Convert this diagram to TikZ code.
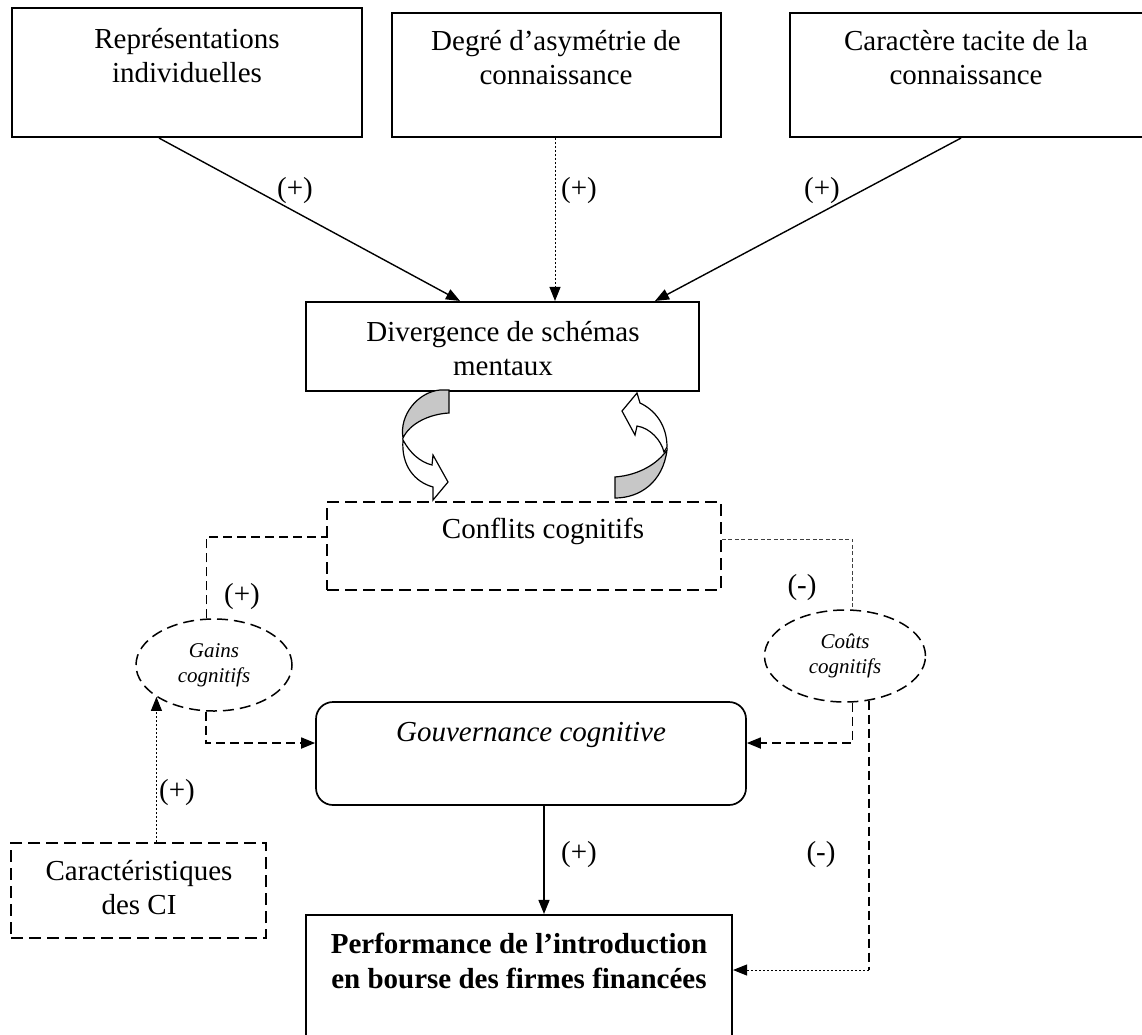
\documentclass[tikz,border=0pt]{standalone}
\usepackage{fontspec}
\setmainfont{Liberation Serif}
\usetikzlibrary{arrows.meta,shapes.geometric}
\begin{document}
\begin{tikzpicture}[x=1pt,y=-1pt,
  solidbox/.style={draw, line width=2.1pt, rectangle, inner sep=0pt},
  dashbox/.style={draw, line width=1.7pt, dash pattern=on 12pt off 6pt, rectangle, inner sep=0pt},
  dashell/.style={draw, line width=1.5pt, dash pattern=on 11pt off 6pt, ellipse, inner sep=0pt},
  txt/.style={align=center, font=\fontsize{29pt}{34pt}\selectfont, inner sep=0pt},
  btxt/.style={align=center, font=\fontsize{29pt}{35pt}\selectfont\bfseries, inner sep=0pt},
  itxt/.style={align=center, font=\fontsize{21pt}{25pt}\selectfont\itshape, inner sep=0pt},
  lbl/.style={font=\fontsize{29pt}{34pt}\selectfont, inner sep=0pt},
  tip/.style={-{Triangle[length=14pt,width=11pt]}},
  solidarr/.style={line width=1.4pt, tip},
  dotarr/.style={line width=1pt, dash pattern=on 2pt off 2pt},
  dasharr/.style={line width=1.7pt, dash pattern=on 9pt off 5pt},
  thinarr/.style={line width=0.9pt, draw=black!75, dash pattern=on 4pt off 2.5pt},
  ribbon/.style={line width=1.2pt, draw=black}
]
\useasboundingbox (0,0) rectangle (1142,1034);

% top boxes
\node[solidbox, minimum width=350pt, minimum height=129pt] (b1) at (187,72.5) {};
\node[txt] (t1) at (187,56) {Représentations\\individuelles};
\node[solidbox, minimum width=329pt, minimum height=124pt] (b2) at (556.5,75) {};
\node[txt] (t2) at (556,58) {Degré d’asymétrie de\\connaissance};
\node[solidbox, minimum width=360pt, minimum height=124pt] (b3) at (970,75) {};
\node[txt] (t3) at (966,58) {Caractère tacite de la\\connaissance};

% divergence
\node[solidbox, minimum width=393pt, minimum height=89pt] (div) at (502.5,346.5) {};
\node[txt] (tdiv) at (503,349) {Divergence de schémas\\mentaux};

% conflits
\node[dashbox, minimum width=394pt, minimum height=88pt] (conf) at (524,546) {};
\node[txt] (tconf) at (543,531) {Conflits cognitifs};

% ellipses
\node[dashell, minimum width=156pt, minimum height=92pt] (gains) at (214,665) {};
\node[itxt] (tgains) at (214,665) {Gains\\cognitifs};
\node[dashell, minimum width=161pt, minimum height=92pt] (couts) at (845,656) {};
\node[itxt] (tcouts) at (845,656) {Coûts\\cognitifs};

% gouvernance
\node[draw, line width=1.7pt, rounded corners=17pt, inner sep=0pt, minimum width=430pt, minimum height=103pt] (gouv) at (531,753.5) {};
\node[txt, font=\fontsize{29pt}{34pt}\selectfont\itshape] (tgouv) at (531,735) {Gouvernance cognitive};

% caracteristiques
\node[dashbox, minimum width=255pt, minimum height=95pt] (carac) at (138.5,890.5) {};
\node[txt] (tcarac) at (139,888) {Caractéristiques\\des CI};

% performance
\node[solidbox, minimum width=426pt, minimum height=130pt] (perf) at (519,980) {};
\node[btxt] (tperf) at (519,961) {Performance de l’introduction\\en bourse des firmes financées};

% top connectors
\draw[solidarr] ([xshift=-28pt]b1.south) -- ([xshift=-42.5pt]div.north);
\draw[dotarr, tip] ([xshift=-1.5pt]b2.south) -- ([xshift=52.5pt]div.north);
\draw[solidarr] ([xshift=-9pt]b3.south) -- ([xshift=152.5pt]div.north);
\node[lbl] (l1) at (295,191) {(+)};
\node[lbl] (l2) at (579,191) {(+)};
\node[lbl] (l3) at (822,191) {(+)};

% curved ribbon arrows
\filldraw[ribbon, fill=black!22] (449,390) -- (449,413) .. controls (430,414) and (410,423) .. (403,438) .. controls (399,415) and (418,392) .. (440,390) -- cycle;
\filldraw[ribbon, fill=white] (403,440) .. controls (410,453) and (420,462) .. (432,465) -- (433,455) -- (448,482) -- (433,500) -- (433,487) .. controls (415,482) and (401,466) .. (403,440) -- cycle;
\filldraw[ribbon, fill=black!22] (615,477) -- (615,498) .. controls (640,498) and (663,482) .. (667,450) .. controls (658,463) and (640,475) .. (615,477) -- cycle;
\filldraw[ribbon, fill=white] (667,447) .. controls (667,425) and (655,410) .. (640,403) -- (637,393) -- (622,411) -- (635,435) -- (637,426) .. controls (650,428) and (661,440) .. (664,452) -- cycle;

% gains connectors
\draw[dasharr] (gains.99.8) |- ([yshift=9pt]conf.west);
\node[lbl] (l4) at (242,597) {(+)};
\coordinate (gin) at ([yshift=10.5pt]gouv.west);
\draw[dasharr, tip] (gains.260.2) |- (gin);

% couts connectors
\draw[thinarr] ([yshift=7pt]conf.east) -| (couts.81.3);
\node[lbl] (l5) at (802,588) {(-)};
\coordinate (cin) at ([yshift=10.5pt]gouv.east);
\draw[dasharr, tip] (couts.-81.3) |- (cin);
\coordinate (pin) at ([yshift=10pt]perf.east);
\coordinate (cp) at (couts.-62.4 |- pin);
\draw[dasharr] (couts.-62.4) -- (cp);
\draw[dotarr, tip] (cp) -- (pin);
\node[lbl] (l8) at (821,855) {(-)};

% caracteristiques -> gains
\draw[dotarr, tip] (gains.209.7 |- carac.north) -- (gains.209.7);
\node[lbl] (l6) at (177,793) {(+)};

% gouvernance -> performance
\draw[solidarr] ([xshift=13pt]gouv.south) -- ([xshift=25pt]perf.north);
\node[lbl] (l7) at (579,855) {(+)};
\end{tikzpicture}
\end{document}
